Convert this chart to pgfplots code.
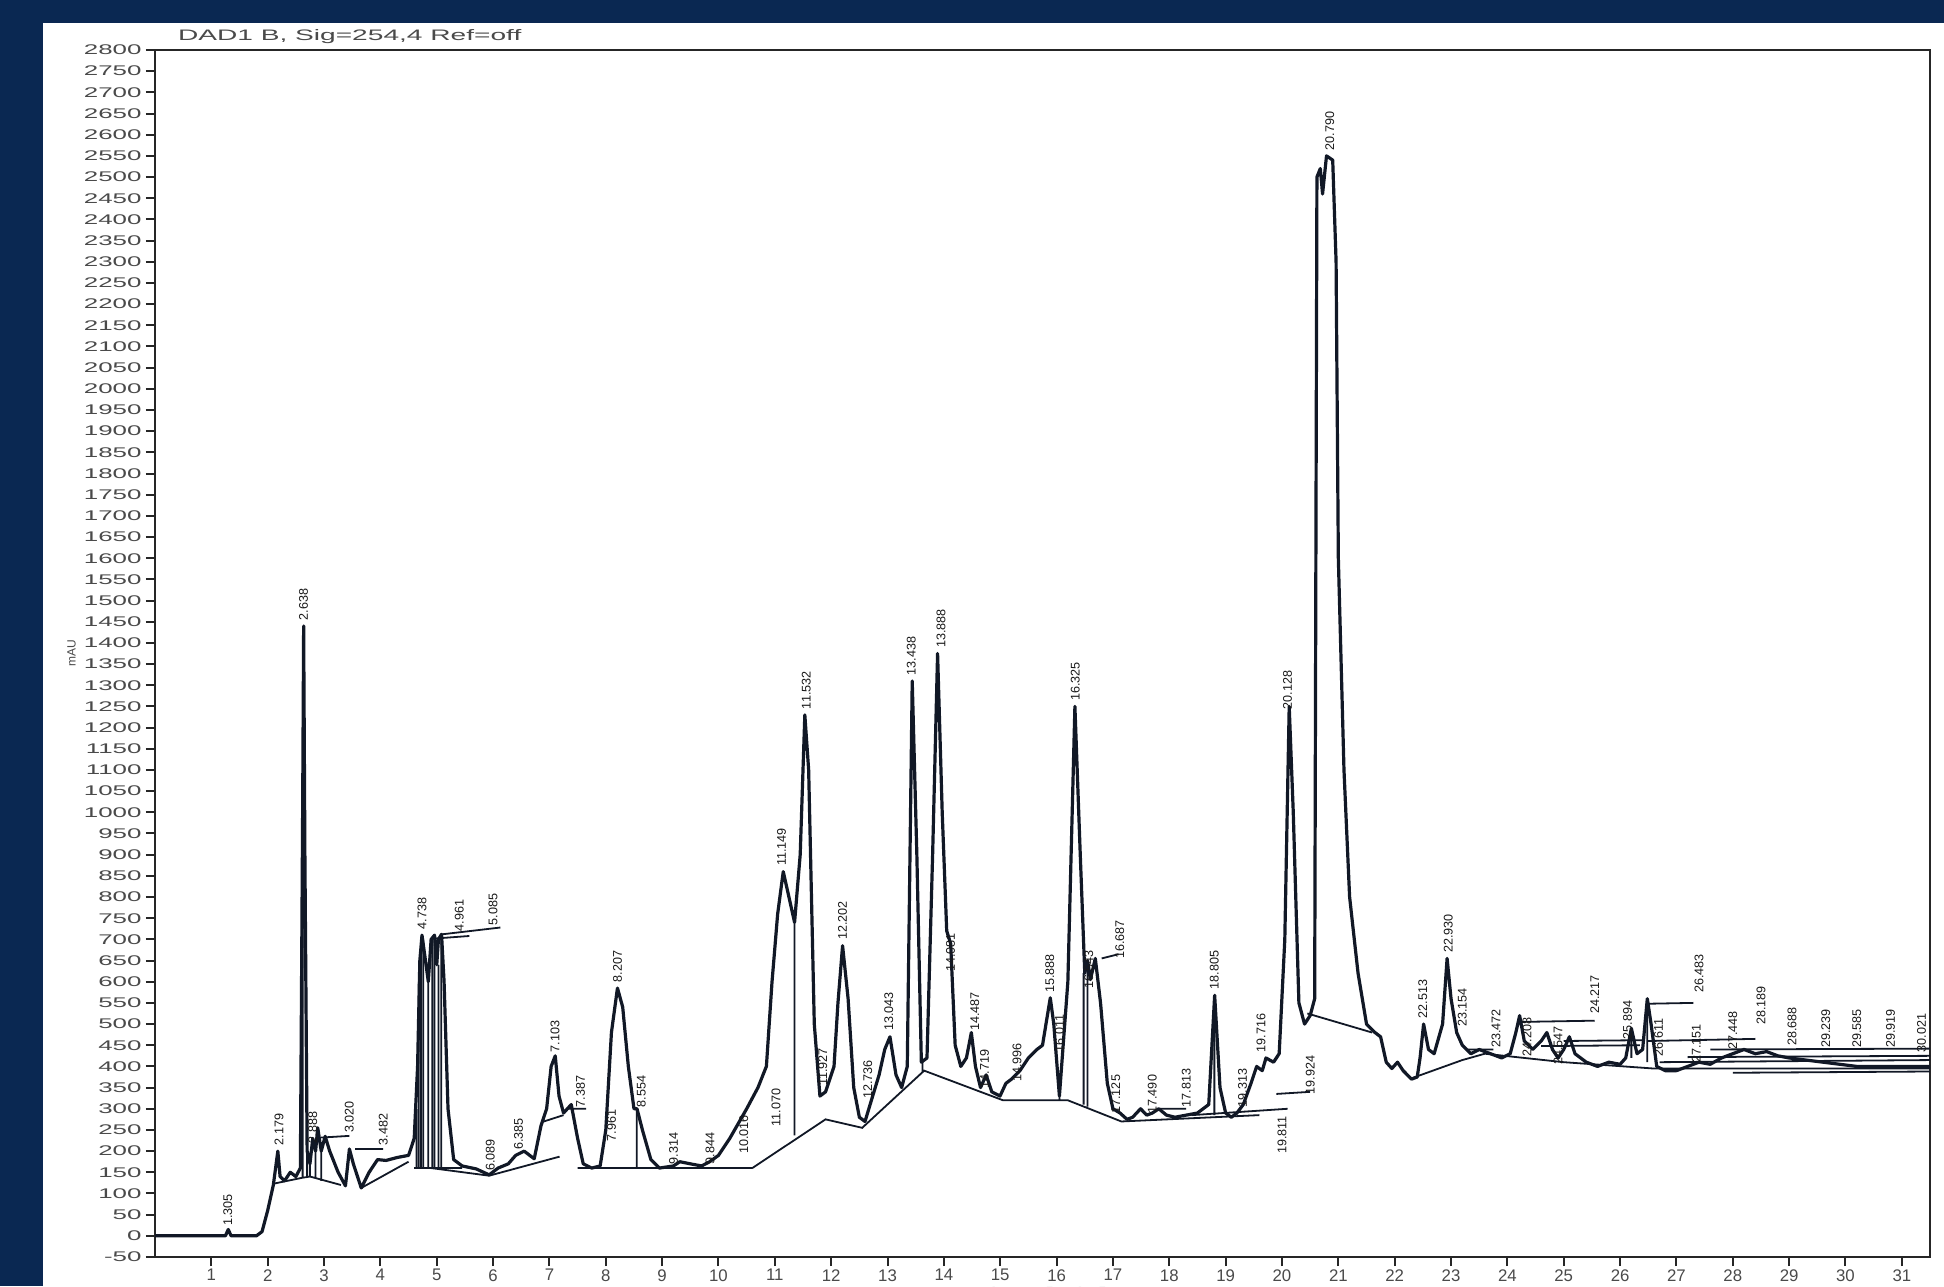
\documentclass[border=0pt]{standalone}
\usepackage{pgfplots}
\pgfplotsset{compat=1.18}
\usepackage{fontspec}
\setmainfont{Liberation Sans}
\definecolor{navy}{HTML}{0A2852}
\definecolor{trace}{HTML}{111826}
\definecolor{ticktext}{HTML}{4A4A4A}

\pgfplotstableread{
x y
0 0
1.25 0
1.30 15
1.35 0
1.80 0
1.90 10
2.00 60
2.10 120
2.18 200
2.22 140
2.30 130
2.40 150
2.50 140
2.58 160
2.62 1000
2.638 1440
2.66 900
2.70 200
2.75 170
2.80 230
2.85 200
2.888 255
2.95 200
3.02 235
3.10 200
3.25 150
3.38 118
3.45 205
3.52 170
3.66 113
3.80 150
3.95 180
4.10 178
4.30 185
4.50 190
4.60 230
4.66 400
4.70 650
4.738 710
4.80 650
4.85 600
4.90 700
4.961 710
5.00 640
5.03 700
5.085 712
5.13 600
5.20 300
5.30 180
5.45 165
5.70 158
5.93 144
6.089 160
6.27 170
6.40 190
6.55 200
6.73 182
6.85 260
6.95 300
7.03 400
7.103 425
7.17 330
7.25 290
7.387 310
7.50 230
7.60 170
7.75 160
7.90 165
8.00 250
8.10 480
8.207 585
8.30 540
8.40 400
8.50 300
8.554 300
8.65 250
8.80 180
8.95 160
9.20 165
9.314 175
9.50 170
9.70 165
9.844 175
10.00 190
10.20 230
10.35 265
10.50 300
10.70 350
10.85 400
10.95 600
11.05 760
11.149 860
11.25 800
11.35 740
11.45 900
11.532 1230
11.60 1100
11.70 500
11.80 330
11.90 340
11.95 360
12.05 400
12.12 550
12.202 685
12.30 560
12.40 350
12.50 280
12.60 270
12.736 330
12.85 380
12.95 440
13.043 470
13.15 380
13.25 350
13.35 400
13.438 1310
13.52 900
13.60 410
13.70 420
13.80 900
13.888 1375
13.97 1000
14.05 720
14.12 690
14.20 450
14.30 400
14.40 420
14.487 480
14.56 400
14.65 350
14.75 380
14.85 340
14.996 330
15.10 360
15.20 370
15.35 390
15.50 420
15.65 440
15.75 450
15.888 562
15.95 500
16.05 330
16.20 600
16.325 1250
16.42 900
16.50 620
16.55 650
16.60 605
16.687 655
16.78 550
16.90 360
17.00 300
17.125 290
17.25 275
17.35 280
17.49 300
17.60 285
17.70 290
17.813 300
17.95 285
18.10 280
18.30 285
18.50 290
18.70 310
18.805 568
18.90 350
19.00 290
19.10 280
19.20 290
19.313 310
19.45 360
19.55 400
19.65 390
19.716 420
19.85 410
19.95 430
20.05 700
20.128 1250
20.20 1000
20.30 550
20.40 500
20.50 520
20.58 560
20.62 2500
20.68 2520
20.72 2460
20.79 2550
20.90 2540
20.96 2300
21.00 1600
21.10 1100
21.20 800
21.35 620
21.50 500
21.65 480
21.75 470
21.85 410
21.95 395
22.05 410
22.15 390
22.30 370
22.40 375
22.45 420
22.513 500
22.60 440
22.70 430
22.85 500
22.93 655
23.00 560
23.10 480
23.20 450
23.35 430
23.50 440
23.70 430
23.90 420
24.05 430
24.15 480
24.217 520
24.30 460
24.45 440
24.60 460
24.70 480
24.80 440
24.90 420
25.00 440
25.10 470
25.20 430
25.40 410
25.60 400
25.80 410
26.00 405
26.10 420
26.20 490
26.30 430
26.40 440
26.483 560
26.55 500
26.65 400
26.80 390
27.00 390
27.20 400
27.40 410
27.60 405
27.80 420
28.00 430
28.20 440
28.40 430
28.60 435
28.80 425
29.00 420
29.30 415
29.60 410
29.90 405
30.20 400
30.50 400
30.80 400
31.10 400
31.50 400
}\signal

\pgfplotstableread{
x y
2.10 123
2.61 137
2.75 140
3.30 120
nan nan
2.62 137
2.62 1000
nan nan
2.70 140
2.70 200
nan nan
2.75 140
2.75 170
nan nan
2.85 135
2.85 200
nan nan
2.95 130
2.95 200
nan nan
2.95 232
3.45 236
nan nan
3.55 205
4.05 205
nan nan
3.66 113
4.50 175
nan nan
4.60 160
5.45 160
nan nan
4.64 160
4.64 300
nan nan
4.68 160
4.68 600
nan nan
4.72 160
4.72 700
nan nan
4.76 160
4.76 700
nan nan
4.85 160
4.85 600
nan nan
4.92 160
4.92 700
nan nan
4.96 160
4.96 705
nan nan
5.03 160
5.03 640
nan nan
5.08 160
5.08 705
nan nan
4.97 702
5.58 708
nan nan
5.10 712
6.13 728
nan nan
4.90 160
5.93 142
7.18 187
nan nan
6.90 270
7.25 285
nan nan
7.30 300
7.65 300
nan nan
7.50 160
10.60 160
nan nan
8.55 160
8.55 300
nan nan
10.60 160
11.90 275
12.55 255
13.65 390
15.05 320
16.20 320
17.15 270
19.60 285
nan nan
11.35 237
11.35 740
nan nan
13.62 388
13.62 410
nan nan
16.05 320
16.05 330
nan nan
16.48 310
16.48 620
nan nan
16.55 305
16.55 650
nan nan
16.80 655
17.10 665
nan nan
17.813 300
18.30 300
nan nan
18.40 285
20.10 300
nan nan
18.80 285
18.80 560
nan nan
19.90 335
20.50 340
nan nan
20.45 525
21.60 480
nan nan
22.30 372
23.20 415
23.60 430
25.00 410
26.60 395
31.50 395
nan nan
23.30 440
23.75 440
nan nan
24.20 505
25.55 508
nan nan
24.60 448
26.35 450
nan nan
25.00 460
26.40 462
nan nan
26.50 548
27.30 550
nan nan
26.50 460
28.40 465
nan nan
26.70 410
31.50 415
nan nan
27.20 422
31.50 425
nan nan
27.60 440
31.50 442
nan nan
28.00 385
31.50 388
nan nan
26.20 420
26.20 490
nan nan
26.483 410
26.483 560
}\baselines

\pgfplotstableread{
x y label
1.29 20 1.305
2.20 210 2.179
2.638 1450 2.638
2.80 215 2.888
3.45 240 3.020
4.05 210 3.482
4.74 720 4.738
5.40 715 4.961
6.00 730 5.085
5.95 150 6.089
6.45 200 6.385
7.10 430 7.103
7.55 300 7.387
8.10 220 7.961
8.207 595 8.207
8.63 300 8.554
9.20 165 9.314
9.85 165 9.844
10.45 190 10.016
11.02 255 11.070
11.12 870 11.149
11.56 1240 11.532
11.85 350 11.927
12.20 695 12.202
12.65 320 12.736
13.02 480 13.043
13.42 1320 13.438
13.95 1385 13.888
14.12 620 14.081
14.55 480 14.487
14.72 345 14.719
15.30 360 14.996
15.88 570 15.888
16.05 430 16.011
16.33 1260 16.325
16.57 580 16.543
17.12 650 16.687
17.05 285 17.125
17.70 285 17.490
18.30 300 17.813
18.80 578 18.805
19.30 300 19.313
19.63 430 19.716
20.00 190 19.811
20.50 330 19.924
20.10 1240 20.128
20.85 2560 20.790
22.50 510 22.513
22.95 665 22.930
23.20 490 23.154
23.80 440 23.472
24.35 420 24.208
24.90 400 24.547
25.55 520 24.217
26.13 460 25.894
26.68 420 26.611
27.35 405 27.151
27.40 570 26.483
28.00 435 27.448
28.50 495 28.189
29.05 445 28.688
29.65 440 29.239
30.20 440 29.585
30.80 440 29.919
31.35 430 30.021
}\peaklabels

\begin{document}
\begin{tikzpicture}
\useasboundingbox (0,0) rectangle (972pt,643pt);
\fill[navy] (0,0) rectangle (972pt,643pt);
\fill[white] (21.5pt,0) rectangle (972pt,631.5pt);
\begin{scope}
\clip (21.5pt,0) rectangle (972pt,631.5pt);
\begin{axis}[
  at={(77.5pt,14.5pt)}, anchor=south west,
  scale only axis, width=887.5pt, height=603.5pt,
  xmin=0, xmax=31.5, ymin=-50, ymax=2800,
  axis line style={line width=1.2pt, black!85},
  xtick={1,...,31}, ytick={-50,0,...,2800},
  scaled ticks=false,
  tick align=outside, tick pos=left, major tick length=4.5pt,
  tick style={line width=1pt, black!85},
  /pgf/number format/assume math mode=true,
  /pgf/number format/1000 sep={},
  yticklabel style={font=\fontsize{7}{7}\selectfont, text=ticktext, xscale=1.85, inner sep=1pt},
  xticklabel style={font=\fontsize{8.4}{8.4}\selectfont, text=ticktext, inner sep=1.5pt},
  clip=false,
]
\addplot[trace, line width=1.6pt, line join=round] table[x=x,y=y] {\signal};
\addplot[trace, line width=0.9pt, unbounded coords=jump] table[x=x,y=y] {\baselines};
\addplot[draw=none, nodes near coords, point meta=explicit symbolic,
  nodes near coords style={rotate=90, anchor=west, font=\fontsize{6.3}{6.3}\selectfont, text=black!90, inner sep=0.6pt}]
  table[x=x,y=y,meta=label] {\peaklabels};
\node[anchor=west, font=\fontsize{7.6}{7.6}\selectfont, text=ticktext, xscale=1.85] at (rel axis cs:0.0056,1.0108) {DAD1 B, Sig=254,4 Ref=off};
\node[rotate=90, font=\fontsize{6}{6}\selectfont, text=ticktext] at (rel axis cs:-0.047,0.50) {mAU};
\node[anchor=north, font=\fontsize{9}{9}\selectfont, text=ticktext, xscale=1.6] at (rel axis cs:0.499,-0.019) {Time [min]};
\end{axis}
\end{scope}
\end{tikzpicture}
\end{document}
